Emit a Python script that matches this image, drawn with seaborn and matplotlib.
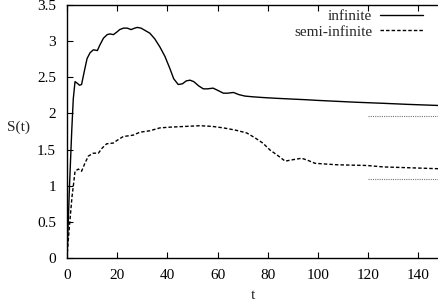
import numpy as np
import pandas as pd
import matplotlib
matplotlib.use("Agg")
import matplotlib.pyplot as plt
import seaborn as sns

# values
t_inf = [0, 1.0, 1.9, 2.5, 3.2, 4.0, 5.0, 5.8, 7.0, 8.0, 9.2, 10.5, 12.1, 13.0,
         14.5, 16.0, 17.1, 18.5, 20.0, 21.0, 22.5, 24.0, 25.5, 27.0, 28.0, 29.5,
         31.0, 33.0, 35.0, 37.0, 39.0, 41.0, 42.5, 44.3, 46.0, 47.5, 49.0, 50.5,
         52.5, 54.3, 56.0, 58.2, 60.0, 62.3, 64.0, 66.3, 68.5, 70.9, 74.0, 78.0,
         83.0, 88.8, 95.0, 100.0, 106.0, 115.0, 126.0, 136.0, 148.0]
s_inf = [0, 1.0, 1.77, 2.2, 2.44, 2.42, 2.39, 2.40, 2.6, 2.76, 2.84, 2.88, 2.87, 2.94,
         3.04, 3.09, 3.10, 3.09, 3.13, 3.16, 3.18, 3.18, 3.16, 3.18, 3.19, 3.18,
         3.15, 3.11, 3.03, 2.92, 2.79, 2.62, 2.48, 2.40, 2.41, 2.45, 2.46, 2.44,
         2.38, 2.34, 2.34, 2.35, 2.32, 2.28, 2.28, 2.29, 2.26, 2.24, 2.23, 2.22,
         2.21, 2.20, 2.19, 2.18, 2.17, 2.155, 2.14, 2.125, 2.11]

t_semi = [0, 0.5, 1.2, 2.0, 2.5, 3.2, 4.5, 5.8, 7.0, 8.5, 10.5, 12.5, 14.0, 15.8,
          18.4, 20.5, 22.4, 26.4, 29.0, 33.0, 37.0, 41.0, 47.0, 53.0, 58.0, 62.3,
          67.0, 71.6, 75.0, 78.0, 81.0, 83.5, 86.9, 90.0, 93.5, 96.0, 98.8, 103.0,
          107.4, 113.0, 119.4, 126.0, 135.0, 148.0]
s_semi = [0, 0.25, 0.53, 0.85, 0.99, 1.20, 1.23, 1.20, 1.30, 1.41, 1.45, 1.45, 1.52, 1.58,
          1.59, 1.64, 1.68, 1.70, 1.74, 1.76, 1.80, 1.81, 1.82, 1.83, 1.82, 1.80,
          1.77, 1.73, 1.66, 1.59, 1.49, 1.43, 1.34, 1.36, 1.38, 1.35, 1.31, 1.30,
          1.29, 1.285, 1.28, 1.26, 1.25, 1.235]

asym_t = [120, 148]
asym_inf = [1.96, 1.96]
asym_semi = [1.09, 1.09]

sns.set_style("ticks")
plt.rcParams['font.family'] = ['Liberation Serif', 'DejaVu Serif']
plt.rcParams['font.size'] = 11

fig = plt.figure(figsize=(4.38, 3.08), dpi=100)
ax = fig.add_axes([67/438, 50/308, 371.5/438, 253/308])

inf_df = pd.DataFrame({'t': t_inf, 'S': s_inf})
semi_df = pd.DataFrame({'t': t_semi, 'S': s_semi})

sns.lineplot(data=inf_df, x='t', y='S', ax=ax, color='black', lw=1.0,
             sort=False, estimator=None, label='infinite')
sns.lineplot(data=semi_df, x='t', y='S', ax=ax, color='black', lw=1.0,
             sort=False, estimator=None, label='semi-infinite',
             linestyle=(0, (2.5, 1.5)))
# asymptotic values
ax.plot(asym_t, asym_inf, color='#777777', lw=0.8, linestyle=(0, (1, 1)))
ax.plot(asym_t, asym_semi, color='#777777', lw=0.8, linestyle=(0, (1, 1)))

ax.set_xlim(0, 148)
ax.set_ylim(0, 3.5)
ax.set_xticks([0, 20, 40, 60, 80, 100, 120, 140])
ax.set_yticks([0, 0.5, 1, 1.5, 2, 2.5, 3, 3.5])
ax.set_yticklabels(['0', '0.5', '1', '1.5', '2', '2.5', '3', '3.5'])
ax.tick_params(direction='in', length=4, width=0.8, top=True, right=False,
               labelsize=11, pad=8, colors='black')
ax.spines['right'].set_visible(False)
for s in ['left', 'bottom', 'top']:
    ax.spines[s].set_linewidth(1.0)
    ax.spines[s].set_color('black')

ax.set_xlabel('t', fontsize=11, labelpad=5)
ax.set_ylabel('S(t)', fontsize=11, rotation=0, labelpad=14)
ax.yaxis.set_label_coords(-0.13, 0.49)

ax.legend(loc='upper right', bbox_to_anchor=(0.97, 1.0), frameon=False,
          markerfirst=False, fontsize=11,
          handlelength=2.8, handletextpad=0.5, labelspacing=0.1,
          borderaxespad=0.2, borderpad=0.1)

fig.savefig('out.png', dpi=100)
